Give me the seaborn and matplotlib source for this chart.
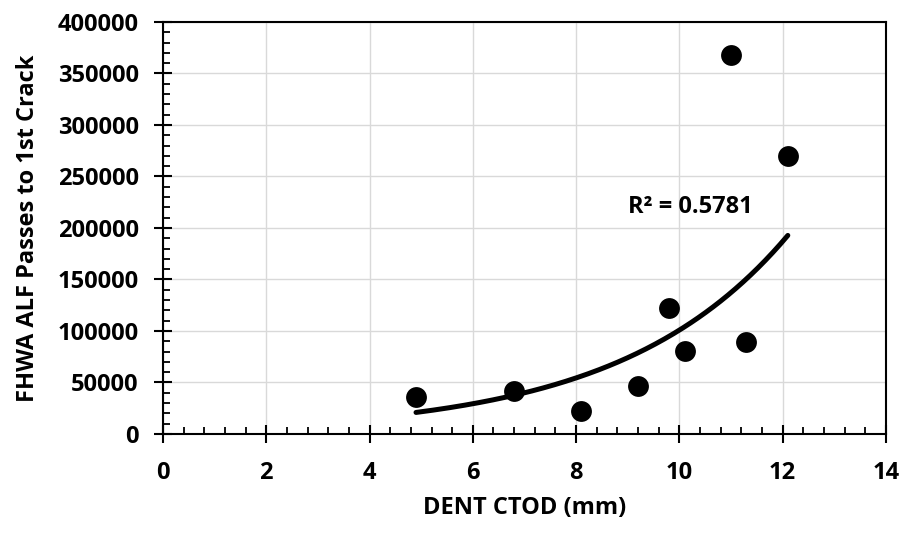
import numpy as np
import pandas as pd
import matplotlib
matplotlib.use("Agg")
import matplotlib.pyplot as plt
import seaborn as sns
from matplotlib.ticker import MultipleLocator, FuncFormatter

# data
ctod = [4.9, 6.8, 8.1, 9.2, 9.8, 10.1, 11.3, 11.0, 12.1]
passes = [36000, 42000, 22000, 47000, 122000, 81000, 89000, 368000, 270000]
x_label = "DENT CTOD (mm)"
y_label = "FHWA ALF Passes to 1st Crack"
r2_text = "R² = 0.5781"

sns.set_theme(style="white")
plt.rcParams['font.family'] = ['Open Sans', 'DejaVu Sans']
plt.rcParams['font.weight'] = 'bold'
plt.rcParams['axes.labelcolor'] = 'black'
plt.rcParams['text.color'] = 'black'

df = pd.DataFrame({"x": ctod, "y": passes})

# exponential trendline (Excel-style, fit in log space)
b, ln_a = np.polyfit(df["x"], np.log(df["y"]), 1)
xs = np.linspace(min(ctod), max(ctod), 200)
trend = pd.DataFrame({"x": xs, "y": np.exp(ln_a) * np.exp(b * xs)})

fig = plt.figure(figsize=(9.04, 5.34), dpi=100)
ax = fig.add_axes([0.1803, 0.1873, 0.7997, 0.7715])

sns.lineplot(data=trend, x="x", y="y", ax=ax, color="black", linewidth=3.6,
             solid_capstyle="round", zorder=3)
sns.scatterplot(data=df, x="x", y="y", ax=ax, color="black", s=225,
                edgecolor="black", linewidth=0, zorder=4)

ax.set_xlim(0, 14)
ax.set_ylim(0, 400000)
ax.xaxis.set_major_locator(MultipleLocator(2))
ax.xaxis.set_minor_locator(MultipleLocator(0.4))
ax.yaxis.set_major_locator(MultipleLocator(50000))
ax.yaxis.set_minor_locator(MultipleLocator(10000))
ax.xaxis.set_major_formatter(FuncFormatter(lambda v, p: f"{v:g}"))
ax.yaxis.set_major_formatter(FuncFormatter(lambda v, p: f"{int(v)}"))

ax.grid(True, which="major", color="#d9d9d9", linewidth=1.0, zorder=0)
ax.set_axisbelow(True)

for s in ax.spines.values():
    s.set_visible(True)
    s.set_color("black")
    s.set_linewidth(1.5)

ax.tick_params(which="major", direction="inout", length=13, width=1.5,
               labelsize=17, colors="black", labelcolor="black",
               bottom=True, left=True)
ax.tick_params(axis="x", which="major", pad=13)
ax.tick_params(axis="y", which="major", pad=11)
ax.tick_params(which="minor", direction="in", length=5, width=1.3,
               bottom=True, left=True, colors="black")
for lab in ax.get_xticklabels() + ax.get_yticklabels():
    lab.set_fontweight("bold")

ax.set_xlabel(x_label, fontsize=17, fontweight="bold", labelpad=8, color="black")
ax.set_ylabel(y_label, fontsize=17, fontweight="bold", labelpad=13, color="black")

ax.text(9.0, 220000, r2_text, fontsize=17, fontweight="bold",
        ha="left", va="center", color="black")

fig.savefig("out.png", dpi=100)
